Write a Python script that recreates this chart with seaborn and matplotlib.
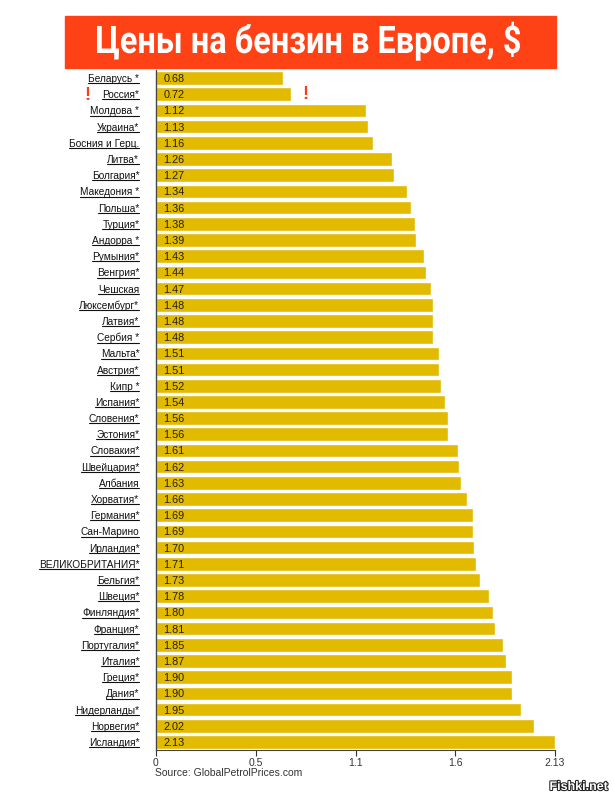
import matplotlib
matplotlib.use("Agg")
import matplotlib.pyplot as plt
import matplotlib.patheffects as pe
from matplotlib.textpath import TextPath
from matplotlib.patches import PathPatch
from matplotlib.font_manager import FontProperties
from matplotlib.transforms import Affine2D
import numpy as np
import pandas as pd
import seaborn as sns

countries = [
    "Беларусь *", "Россия*", "Молдова *", "Украина*", "Босния и Герц.",
    "Литва*", "Болгария*", "Македония *", "Польша*", "Турция*",
    "Андорра *", "Румыния*", "Венгрия*", "Чешская", "Люксембург*",
    "Латвия*", "Сербия *", "Мальта*", "Австрия*", "Кипр *",
    "Испания*", "Словения*", "Эстония*", "Словакия*", "Швейцария*",
    "Албания", "Хорватия*", "Германия*", "Сан-Марино", "Ирландия*",
    "ВЕЛИКОБРИТАНИЯ*", "Бельгия*", "Швеция*", "Финляндия*", "Франция*",
    "Португалия*", "Италия*", "Греция*", "Дания*", "Нидерланды*",
    "Норвегия*", "Исландия*",
]
prices = [
    0.68, 0.72, 1.12, 1.13, 1.16,
    1.26, 1.27, 1.34, 1.36, 1.38,
    1.39, 1.43, 1.44, 1.47, 1.48,
    1.48, 1.48, 1.51, 1.51, 1.52,
    1.54, 1.56, 1.56, 1.61, 1.62,
    1.63, 1.66, 1.69, 1.69, 1.70,
    1.71, 1.73, 1.78, 1.80, 1.81,
    1.85, 1.87, 1.90, 1.90, 1.95,
    2.02, 2.13,
]
tick_labels = ["0", "0.5", "1.1", "1.6", "2.13"]

title = "Цены на бензин в Европе, $"
source = "Source: GlobalPetrolPrices.com"

df = pd.DataFrame({"country": countries, "price": prices})

sns.set_theme(style="white")
plt.rcParams["font.family"] = ["Liberation Sans", "DejaVu Sans"]

fig = plt.figure(figsize=(6.14, 8), dpi=100)
ax = fig.add_axes([0.254, 0.0625, 0.65, 0.85])

sns.barplot(data=df, x="price", y="country", color="#E2BA00",
            saturation=1, width=0.84, ax=ax, orient="h")

for i, v in enumerate(df["price"]):
    ax.text(0.04, i, f"{v:.2f}", va="center_baseline", ha="left", fontsize=7.8,
            color="#222222")

top = max(prices)
ax.set_xlim(0, top)
ax.set_ylim(len(countries) - 0.5, -0.5)
ax.set_xticks(np.linspace(0, top, len(tick_labels)))
ax.set_xticklabels(tick_labels, fontsize=7.5, color="#333333")
ax.tick_params(axis="x", length=4, width=0.8, color="#333333", pad=2, bottom=True)
ax.tick_params(axis="y", length=0, pad=12, labelsize=7.3, labelcolor="#111111")
ax.set_xlabel("")
ax.set_ylabel("")
for side in ["top", "right"]:
    ax.spines[side].set_visible(False)
ax.spines["left"].set_color("#444444")
ax.spines["bottom"].set_color("#444444")
ax.spines["left"].set_linewidth(1.0)
ax.spines["bottom"].set_linewidth(0.8)

# exclamation marks around Russia
ax.text(prices[1] + 0.06, 1, "!", color="#FF3B1A", fontsize=13, fontweight="bold",
        va="center", ha="left")
fig.text(0.142, 1 - 95 / 800, "!", color="#FF3B1A", fontsize=13, fontweight="bold",
         va="center", ha="center")

# title banner
fig.patches.append(plt.Rectangle((0.106, 0.915), 0.800, 0.065, transform=fig.transFigure,
                                 color="#FF4216", zorder=0))

# condensed bold title: text outline squeezed horizontally (pixel coords)
tp = TextPath((0, 0), title, size=38, prop=FontProperties(family="Roboto", weight="bold"))
ext = tp.get_extents()
title_w = 423
tr = (Affine2D()
      .translate(-ext.x0 - ext.width / 2, 0)
      .scale(title_w / ext.width, 1.0)
      .translate(308.5, 800 - 53))
fig.add_artist(PathPatch(tp, transform=tr, facecolor="white", edgecolor="none"))

fig.text(0.252, 1 - 773 / 800, source, fontsize=7.5, color="#333333", ha="left", va="center")
fig.text(0.99, 1 - 787 / 800, "Fishki.net", fontsize=9, fontweight="bold", color="white",
         ha="right", va="center",
         path_effects=[pe.withStroke(linewidth=1.5, foreground="#222222")])

# underline the country labels like links
fig.canvas.draw()
renderer = fig.canvas.get_renderer()
inv = fig.transFigure.inverted()
for lab in ax.get_yticklabels():
    bb = lab.get_window_extent(renderer)
    (x0, y0), (x1, y1) = inv.transform([[bb.x0, bb.y0], [bb.x1, bb.y1]])
    fig.add_artist(plt.Line2D([x0, x1], [y0 + 0.001, y0 + 0.001], transform=fig.transFigure,
                              color="#111111", linewidth=0.8))

fig.savefig("out.png", dpi=100)
